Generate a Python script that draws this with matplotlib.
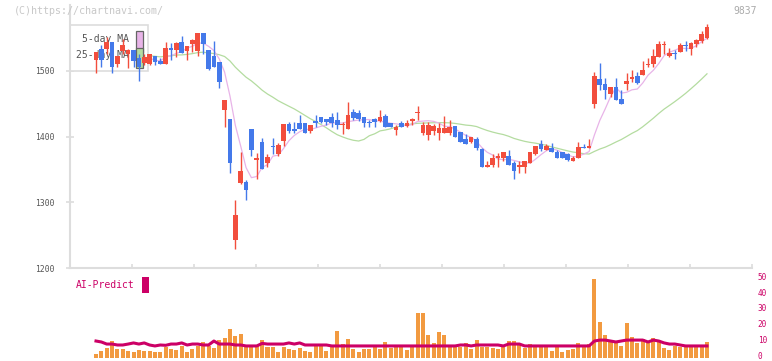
import numpy as np
import pandas as pd
import matplotlib
matplotlib.use("Agg")
import matplotlib.pyplot as plt
import matplotlib.transforms as mtransforms
from matplotlib.patches import Rectangle

#########################################################
# Data (daily candles, 2/27 .. 8/14)
#########################################################

opens = [1516, 1533, 1533, 1543, 1511, 1530, 1525, 1531, 1520, 1512,
         1510, 1522, 1515, 1511, 1534, 1532, 1544, 1530, 1541, 1530,
         1557, 1531, 1522, 1513, 1440, 1427, 1242, 1330, 1331, 1412,
         1365, 1392, 1360, 1386, 1374, 1393, 1419, 1411, 1421, 1421,
         1409, 1424, 1430, 1427, 1430, 1425, 1417, 1412, 1437, 1435,
         1430, 1422, 1427, 1424, 1431, 1421, 1410, 1421, 1416, 1423,
         1435, 1406, 1403, 1409, 1406, 1406, 1406, 1416, 1407, 1396,
         1392, 1396, 1381, 1354, 1356, 1367, 1368, 1371, 1359, 1353,
         1354, 1360, 1374, 1389, 1379, 1383, 1377, 1377, 1374, 1363,
         1367, 1384, 1383, 1450, 1487, 1480, 1465, 1475, 1457, 1480,
         1487, 1492, 1494, 1508, 1510, 1521, 1539, 1523, 1527, 1528,
         1539, 1533, 1541, 1545, 1550]
highs = [1529, 1539, 1552, 1543, 1522, 1549, 1533, 1531, 1525, 1525,
         1525, 1522, 1519, 1544, 1542, 1544, 1553, 1538, 1549, 1557,
         1557, 1531, 1545, 1513, 1456, 1427, 1304, 1377, 1334, 1412,
         1375, 1398, 1374, 1398, 1390, 1419, 1422, 1422, 1433, 1421,
         1418, 1433, 1430, 1427, 1436, 1437, 1422, 1452, 1442, 1440,
         1430, 1425, 1428, 1440, 1434, 1421, 1418, 1424, 1425, 1428,
         1446, 1422, 1422, 1419, 1421, 1431, 1425, 1416, 1407, 1404,
         1400, 1399, 1383, 1363, 1373, 1375, 1377, 1380, 1362, 1362,
         1362, 1376, 1386, 1395, 1389, 1390, 1380, 1377, 1375, 1370,
         1392, 1389, 1396, 1498, 1512, 1489, 1475, 1489, 1471, 1497,
         1501, 1498, 1515, 1519, 1533, 1545, 1545, 1534, 1531, 1542,
         1545, 1544, 1548, 1560, 1571]
lows = [1497, 1505, 1525, 1496, 1506, 1525, 1504, 1505, 1485, 1509,
        1509, 1509, 1511, 1511, 1516, 1521, 1527, 1517, 1529, 1523,
        1525, 1501, 1506, 1474, 1415, 1345, 1229, 1327, 1303, 1370,
        1335, 1350, 1353, 1373, 1370, 1386, 1406, 1406, 1412, 1406,
        1406, 1415, 1421, 1418, 1415, 1412, 1404, 1412, 1425, 1423,
        1415, 1415, 1415, 1422, 1415, 1414, 1402, 1415, 1414, 1418,
        1425, 1403, 1395, 1403, 1394, 1406, 1403, 1400, 1392, 1388,
        1390, 1379, 1354, 1354, 1354, 1354, 1363, 1357, 1335, 1344,
        1344, 1359, 1372, 1378, 1379, 1376, 1367, 1367, 1362, 1362,
        1367, 1382, 1383, 1444, 1471, 1457, 1460, 1456, 1450, 1471,
        1483, 1480, 1494, 1506, 1506, 1521, 1525, 1521, 1518, 1528,
        1530, 1524, 1536, 1542, 1548]
closes = [1528, 1517, 1543, 1505, 1522, 1539, 1531, 1515, 1505, 1521,
          1525, 1513, 1511, 1534, 1532, 1542, 1527, 1538, 1547, 1557,
          1541, 1503, 1506, 1483, 1456, 1359, 1281, 1348, 1319, 1380,
          1368, 1350, 1369, 1384, 1387, 1419, 1409, 1409, 1412, 1406,
          1417, 1421, 1422, 1422, 1421, 1418, 1419, 1433, 1428, 1427,
          1421, 1420, 1422, 1429, 1415, 1415, 1415, 1415, 1421, 1426,
          1437, 1418, 1418, 1416, 1413, 1413, 1415, 1400, 1392, 1388,
          1400, 1382, 1354, 1356, 1367, 1370, 1377, 1357, 1347, 1356,
          1362, 1376, 1386, 1381, 1386, 1377, 1367, 1367, 1365, 1368,
          1384, 1382, 1386, 1492, 1478, 1471, 1475, 1456, 1450, 1484,
          1490, 1481, 1501, 1510, 1522, 1541, 1541, 1527, 1525, 1539,
          1537, 1542, 1547, 1556, 1566]

volume = [2.3, 4.4, 6.1, 10.5, 5.5, 5.5, 4.2, 3.6, 4.9, 4.2,
          4.2, 3.6, 3.6, 6.7, 5.5, 4.9, 7.4, 3.6, 5.5, 7.4,
          9.9, 7.4, 6.1, 11.1, 12.4, 18.1, 13.7, 15.0, 6.7, 6.7,
          7.4, 11.1, 6.7, 6.7, 3.6, 6.7, 5.5, 4.9, 6.1, 4.2,
          3.6, 7.4, 7.4, 4.2, 7.4, 16.8, 8.6, 11.8, 5.5, 3.6,
          5.5, 5.5, 6.7, 5.5, 9.9, 6.4, 7.0, 7.0, 4.9, 6.7,
          28.2, 28.2, 14.3, 9.3, 16.2, 14.3, 6.7, 6.7, 6.7, 9.3,
          5.5, 11.1, 6.7, 6.7, 6.1, 5.5, 6.7, 10.5, 10.5, 8.6,
          6.1, 8.6, 6.7, 6.7, 6.7, 4.2, 6.7, 3.6, 4.9, 5.5,
          9.3, 6.7, 8.6, 49.5, 22.5, 14.3, 11.1, 9.3, 7.4, 21.9,
          13.1, 9.3, 11.8, 9.3, 12.4, 10.5, 6.1, 4.9, 7.4, 6.7,
          6.7, 6.7, 6.7, 6.7, 9.9]

ai_predict = [10.5, 9.9, 8.6, 8.6, 8.0, 8.0, 8.6, 9.3, 8.6, 9.3,
              8.0, 7.4, 8.0, 7.8, 8.6, 8.6, 9.3, 8.0, 8.6, 8.6,
              8.0, 8.0, 10.5, 8.6, 8.6, 8.6, 8.0, 8.0, 7.4, 7.4,
              7.4, 9.0, 8.6, 8.6, 8.6, 8.6, 9.3, 8.6, 9.3, 8.0,
              8.0, 8.0, 8.0, 8.0, 7.4, 7.4, 7.4, 7.4, 7.4, 7.4,
              7.4, 7.4, 7.4, 7.4, 7.4, 7.4, 7.4, 7.4, 7.4, 7.4,
              7.4, 7.4, 7.4, 7.4, 7.4, 7.4, 7.4, 7.4, 8.0, 8.0,
              7.4, 8.0, 8.0, 8.0, 8.0, 8.0, 7.4, 8.6, 8.6, 8.6,
              7.4, 7.4, 7.4, 7.4, 7.4, 7.4, 7.4, 7.4, 7.4, 7.4,
              7.4, 7.4, 7.4, 10.5, 11.1, 11.1, 10.5, 9.9, 10.5, 11.1,
              11.1, 11.1, 11.1, 9.9, 11.1, 10.5, 9.3, 8.6, 8.6, 8.0,
              7.4, 7.4, 7.4, 7.4, 7.4]

date_labels = ['3/19', '4/3', '4/17', '5/2', '5/20', '6/3', '6/17',
               '7/1', '7/15', '7/30', '8/14']
date_idx = [14, 24, 34, 44, 54, 64, 74, 84, 94, 104, 114]

price_ticks = [1200, 1300, 1400, 1500]
vol_ticks = [0, 10, 20, 30, 40, 50]

#########################################################
# Derived series
#########################################################

df = pd.DataFrame({'open': opens, 'high': highs, 'low': lows, 'close': closes})
df['ma5'] = df['close'].rolling(5, min_periods=1).mean()
df['ma25'] = df['close'].rolling(25, min_periods=1).mean()
idx = np.arange(len(df))
up = df['close'] >= df['open']

RED = '#f24e3d'
BLUE = '#4479ea'
GREY = '#dddddd'
TXT = '#555555'
MAG = '#cc0066'
MONO = 'DejaVu Sans Mono'

#########################################################
# Figure
#########################################################

fig = plt.figure(figsize=(7.72, 3.61), dpi=100)
W, H = 772.0, 361.0

# main price panel
ax = fig.add_axes([70 / W, (H - 268) / H, 682 / W, 263 / H])
ax.set_xlim(-4.85, 122.4)
ax.set_ylim(1200, 1600)

ax.plot(idx, df['ma25'], color='#b4dca0', lw=0.9, zorder=1)
ax.plot(idx, df['ma5'], color='#e8b4e8', lw=0.9, zorder=1)

cols = np.where(up, RED, BLUE)
ax.vlines(idx, df['low'], df['high'], colors=cols, lw=1.0, zorder=3)
body_lo = np.minimum(df['open'], df['close'])
body_h = np.maximum(np.abs(df['close'] - df['open']), 1.2)
ax.bar(idx, body_h, bottom=body_lo, width=0.87, color=cols, zorder=3)

# legend box (under candles, over MA lines)
ax.add_patch(Rectangle((0, 0.749), 0.1144, 0.175, transform=ax.transAxes,
                       facecolor='white', edgecolor=GREY, lw=1.2, zorder=2))
ax.text(0.0865, 0.872, '5-day MA', transform=ax.transAxes, ha='right', va='center',
        fontsize=7, color=TXT, family=MONO, zorder=2.5)
ax.text(0.0865, 0.808, '25-day MA', transform=ax.transAxes, ha='right', va='center',
        fontsize=7, color=TXT, family=MONO, zorder=2.5)
ax.add_patch(Rectangle((0.0975, 0.8175), 0.0095, 0.0835, transform=ax.transAxes,
                       facecolor='#e8b4e8', edgecolor='#666666', lw=0.9, zorder=2.5))
ax.add_patch(Rectangle((0.0975, 0.760), 0.0095, 0.0765, transform=ax.transAxes,
                       facecolor='#b4dca0', edgecolor='#666666', lw=0.9, zorder=2.5))

for s in ['top', 'right']:
    ax.spines[s].set_visible(False)
for s in ['left', 'bottom']:
    ax.spines[s].set_color(GREY)
    ax.spines[s].set_linewidth(1.5)

ax.set_yticks(price_ticks)
ax.set_yticklabels([str(p) for p in price_ticks], family=MONO, fontsize=5.8, color=TXT)
ax.tick_params(axis='y', direction='inout', length=6, width=1.2, color=GREY, pad=8)
ax.set_xticks(np.linspace(-4.85, 122.4, 12))
ax.set_xticklabels([])
ax.tick_params(axis='x', direction='in', length=3, width=1.2, color=GREY)

for lab, i in zip(date_labels, date_idx):
    ax.text(i, -0.057, lab, transform=ax.get_xaxis_transform(), ha='center', va='center',
            fontsize=5.8, color=TXT, family=MONO)

# volume / AI-Predict panel
vax = fig.add_axes([70 / W, (H - 357.7) / H, 682 / W, 79.4 / H])
vax.set_xlim(-4.85, 122.4)
vax.set_ylim(0, 50)
vax.bar(idx, volume, width=0.75, color='#f29a40', zorder=1)
vax.plot(idx, ai_predict, color=MAG, lw=2.2, zorder=2)
for s in vax.spines.values():
    s.set_visible(False)
vax.set_xticks([])
vax.yaxis.tick_right()
vax.set_yticks(vol_ticks)
vax.set_yticklabels([str(v) for v in vol_ticks], family=MONO, fontsize=5.6, color=MAG)
vax.tick_params(axis='y', length=0, pad=4)
# lift the right-hand labels a little so the bottom "0" stays inside the picture
lift = mtransforms.ScaledTranslation(0, 1.5 / 72, fig.dpi_scale_trans)
for lbl in vax.get_yticklabels():
    lbl.set_transform(lbl.get_transform() + lift)

fig.text(76 / W, (H - 285) / H, 'AI-Predict', ha='left', va='center',
         fontsize=7, color=MAG, family=MONO)
fig.patches.append(Rectangle((142 / W, (H - 293) / H), 7 / W, 16 / H,
                             transform=fig.transFigure, facecolor=MAG, edgecolor='none'))

# watermark and code
fig.text(14 / W, (H - 11.5) / H, '(C)https://chartnavi.com/', ha='left', va='center',
         fontsize=7.2, color='#c8c8c8', family=MONO)
fig.text(757 / W, (H - 11.5) / H, '9837', ha='right', va='center',
         fontsize=7, color='#aaaaaa', family=MONO)

fig.savefig('out.png', dpi=100)
